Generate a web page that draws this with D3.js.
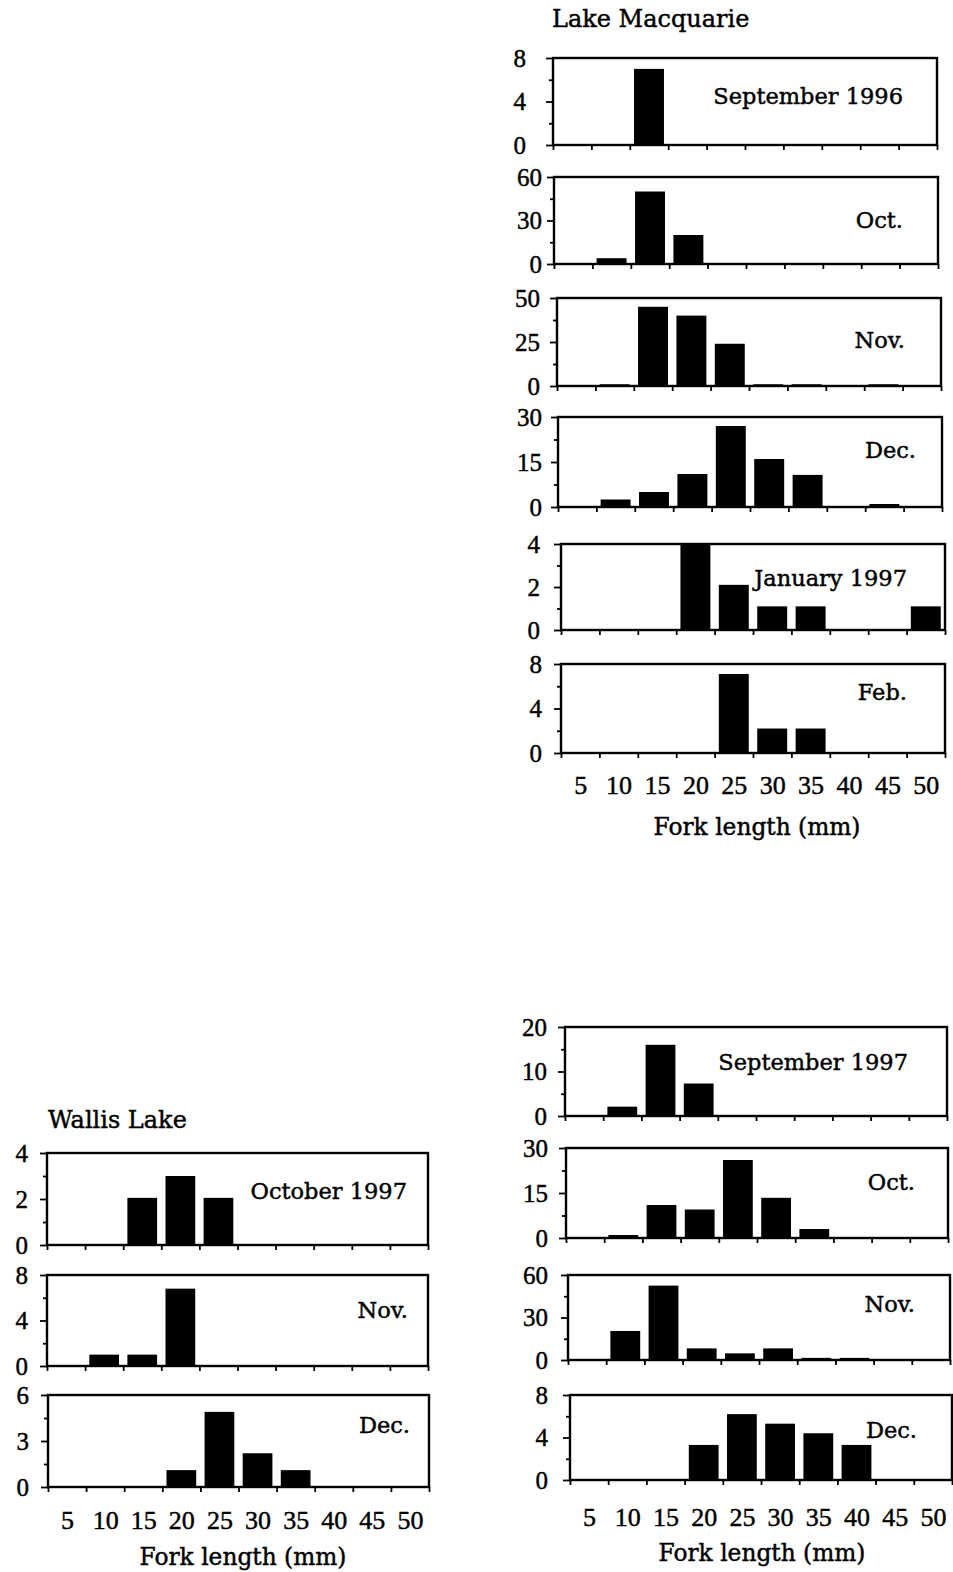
<!DOCTYPE html>
<html><head><meta charset="utf-8">
<script src="https://cdn.jsdelivr.net/npm/d3@7/dist/d3.min.js"></script>
<style>
html,body{margin:0;padding:0;background:#fff;}
svg{display:block;}
</style></head>
<body>
<svg id="chart" width="953" height="1572"></svg>
<script>
// ---------- DATA ----------
const bins = [5, 10, 15, 20, 25, 30, 35, 40, 45, 50];
const binLabels = ["5","10","15","20","25","30","35","40","45","50"];
const axisTitle = "Fork length (mm)";
const groupTitles = ["Lake Macquarie", "Wallis Lake", ""];

// Lake Macquarie 1996-97
const macSep96 = [0, 0, 7, 0, 0, 0, 0, 0, 0, 0];
const macOct96 = [0, 4, 50, 20, 0, 0, 0, 0, 0, 0];
const macNov96 = [0, 1, 45, 40, 24, 1, 1, 0, 1, 0];
const macDec96 = [0, 2.5, 5, 11, 27, 16, 10.7, 0, 1, 0];
const macJan97 = [0, 0, 0, 4, 2.1, 1.1, 1.1, 0, 0, 1.1];
const macFeb97 = [0, 0, 0, 0, 7.1, 2.2, 2.2, 0, 0, 0];
// Wallis Lake 1997
const walOct97 = [0, 0, 2.05, 3, 2.05, 0, 0, 0, 0, 0];
const walNov97 = [0, 1, 1, 6.8, 0, 0, 0, 0, 0, 0];
const walDec97 = [0, 0, 0, 1.1, 4.9, 2.2, 1.1, 0, 0, 0];
// 1997 season (right, bottom)
const secSep97 = [0, 2.1, 16, 7.3, 0, 0, 0, 0, 0, 0];
const secOct97 = [0, 1, 11, 9.5, 26, 13.4, 3, 0, 0, 0];
const secNov97 = [0, 20.5, 52.5, 8.2, 4.7, 8.2, 1.5, 1.5, 0, 0];
const secDec97 = [0, 0, 0, 3.3, 6.2, 5.3, 4.4, 3.3, 0, 0];

const panelMonths = {
  macSep96: "September 1996", macOct96: "Oct.", macNov96: "Nov.", macDec96: "Dec.",
  macJan97: "January 1997", macFeb97: "Feb.",
  walOct97: "October 1997", walNov97: "Nov.", walDec97: "Dec.",
  secSep97: "September 1997", secOct97: "Oct.", secNov97: "Nov.", secDec97: "Dec."
};
const panelMax = {
  macSep96: 8, macOct96: 60, macNov96: 50, macDec96: 30, macJan97: 4, macFeb97: 8,
  walOct97: 4, walNov97: 8, walDec97: 6,
  secSep97: 20, secOct97: 30, secNov97: 60, secDec97: 8
};
const seriesByKey = {macSep96, macOct96, macNov96, macDec96, macJan97, macFeb97,
  walOct97, walNov97, walDec97, secSep97, secOct97, secNov97, secDec97};

// ---------- LAYOUT ----------
const groups = [
  { title: groupTitles[0], tx: 552, ty: 27, xlabY: 794, atX: 757, atY: 835,
    panels: [
      {key:"macSep96", t:58,  b:145, l:553, r:937, lx:903, ly:104, pad:20},
      {key:"macOct96", t:177, b:264, l:554, r:938, lx:903, ly:228, pad:5},
      {key:"macNov96", t:298, b:386, l:557, r:941, lx:905, ly:348, pad:10},
      {key:"macDec96", t:417, b:507, l:558, r:942, lx:916, ly:458, pad:9},
      {key:"macJan97", t:544, b:630, l:561, r:945, lx:907, ly:586, pad:14},
      {key:"macFeb97", t:664, b:753, l:561, r:945, lx:907, ly:700, pad:12}
    ]},
  { title: groupTitles[1], tx: 48, ty: 1128, xlabY: 1529, atX: 243, atY: 1565,
    panels: [
      {key:"walOct97", t:1153, b:1245, l:47, r:428, lx:407, ly:1199, pad:12},
      {key:"walNov97", t:1275, b:1366, l:47, r:428, lx:408, ly:1318, pad:12},
      {key:"walDec97", t:1395, b:1487, l:48, r:429, lx:410, ly:1433, pad:12}
    ]},
  { title: groupTitles[2], tx: 565, ty: 1000, xlabY: 1526, atX: 762, atY: 1561,
    panels: [
      {key:"secSep97", t:1027, b:1116, l:565, r:947, lx:908, ly:1070, pad:11},
      {key:"secOct97", t:1148, b:1238, l:566, r:948, lx:915, ly:1190, pad:11},
      {key:"secNov97", t:1275, b:1360, l:568, r:950, lx:915, ly:1312, pad:13},
      {key:"secDec97", t:1395, b:1480, l:570, r:952, lx:917, ly:1438, pad:15}
    ]}
];

const wordFont = "'DejaVu Serif', serif";
const numFont = "'Liberation Serif', 'Times New Roman', serif";
const svg = d3.select("#chart");
const edges = bins.map(b => b - 2.5).concat([bins[bins.length-1] + 2.5]);
const halfBar = 1.95;

function styleAxis(sel) {
  sel.select(".domain").remove();
  sel.selectAll("line").attr("stroke", "#000").attr("stroke-width", 1.8);
}
function inkText(sel) {
  sel.attr("fill", "#000").attr("stroke", "#000").attr("stroke-width", 0.45);
}

groups.forEach(gr => {
  if (gr.title) {
    svg.append("text").attr("x", gr.tx).attr("y", gr.ty)
      .attr("font-family", wordFont).attr("font-size", 24)
      .text(gr.title).call(inkText);
  }
  let lastX = null;
  gr.panels.forEach(p => {
    const vals = seriesByKey[p.key];
    const max = panelMax[p.key];
    const x = d3.scaleLinear().domain([edges[0], edges[edges.length-1]]).range([p.l, p.r]);
    const y = d3.scaleLinear().domain([0, max]).range([p.b, p.t]);
    lastX = x;
    const g = svg.append("g");
    // bars
    g.selectAll("rect.bar")
      .data(bins.map((b, i) => ({b, v: vals[i]})).filter(d => d.v > 0))
      .join("rect").attr("class", "bar")
      .attr("x", d => x(d.b - halfBar))
      .attr("width", d => x(d.b + halfBar) - x(d.b - halfBar))
      .attr("y", d => y(d.v))
      .attr("height", d => y(0) - y(d.v))
      .attr("fill", "#000");
    // frame
    g.append("rect").attr("x", p.l).attr("y", p.t)
      .attr("width", p.r - p.l).attr("height", p.b - p.t)
      .attr("fill", "none").attr("stroke", "#000").attr("stroke-width", 2.4);
    // y axis major
    const ya = g.append("g").attr("transform", `translate(${p.l},0)`)
      .call(d3.axisLeft(y).tickValues([0, max/2, max]).tickSize(7).tickPadding(p.pad)
        .tickFormat(d3.format("d")));
    styleAxis(ya);
    ya.selectAll("text").attr("font-family", numFont).attr("font-size", 25).call(inkText);
    // y axis minor
    const ym = g.append("g").attr("transform", `translate(${p.l},0)`)
      .call(d3.axisLeft(y).tickValues([max/4, 3*max/4]).tickSize(4).tickFormat(""));
    styleAxis(ym);
    // x ticks at bin edges
    const xa = g.append("g").attr("transform", `translate(0,${p.b})`)
      .call(d3.axisBottom(x).tickValues(edges).tickSize(5).tickFormat(""));
    styleAxis(xa);
    // month label
    g.append("text").attr("x", p.lx).attr("y", p.ly)
      .attr("text-anchor", "end").attr("font-family", wordFont)
      .attr("font-size", 22.5)
      .text(panelMonths[p.key]).call(inkText);
  });
  // x tick labels
  const xl = svg.append("g").attr("transform", `translate(0,${gr.xlabY})`)
    .call(d3.axisBottom(lastX).tickValues(bins).tickSize(0).tickFormat((d, i) => binLabels[i]));
  xl.select(".domain").remove();
  xl.selectAll("text").attr("y", 0).attr("dy", 0)
    .attr("font-family", numFont).attr("font-size", 26).call(inkText);
  // axis title
  svg.append("text").attr("x", gr.atX).attr("y", gr.atY).attr("text-anchor", "middle")
    .attr("font-family", wordFont).attr("font-size", 23.3)
    .text(axisTitle).call(inkText);
});
</script>
</body></html>
